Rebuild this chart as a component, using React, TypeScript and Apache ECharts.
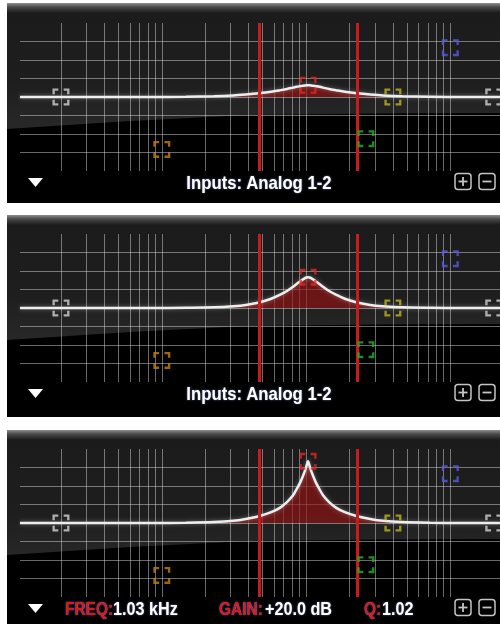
import React, { useEffect, useRef } from "react";
import * as echarts from "echarts";

const FREQS = [10.4, 86, 147, 229, 313, 382, 471, 573, 662, 737, 813, 860, 908, 947, 983, 1007, 1032, 1058, 1084, 1125, 1173, 1238, 1311, 1445, 1610, 1858, 2260, 2786, 3406, 4644, 7224, 12384, 22100];
// Curve gain (dB) for each of the three screenshots
const GAIN_A = [0, 0, 0.1, 0.25, 0.5, 0.8, 1.2, 1.7, 2.2, 2.6, 3.05, 3.3, 3.5, 3.65, 3.74, 3.78, 3.8, 3.78, 3.74, 3.65, 3.5, 3.3, 3.05, 2.6, 2.2, 1.7, 1.2, 0.8, 0.5, 0.25, 0.1, 0, 0];
const GAIN_B = [0, 0, 0.1, 0.25, 0.6, 1.0, 1.8, 3.0, 4.3, 5.5, 6.9, 7.8, 8.6, 9.2, 9.7, 9.9, 10, 9.9, 9.7, 9.2, 8.6, 7.8, 6.9, 5.5, 4.3, 3.0, 1.8, 1.0, 0.6, 0.25, 0.1, 0, 0];
const GAIN_C = [0, 0, 0.1, 0.3, 0.7, 1.3, 2.2, 3.5, 5, 6.8, 9, 11, 13, 15, 17, 18.5, 20, 18.5, 17, 15, 13, 11, 9, 6.8, 5, 3.5, 2.2, 1.3, 0.7, 0.3, 0.1, 0, 0];
const GAINS = [GAIN_A, GAIN_B, GAIN_C];

// Vertical grid frequencies and horizontal gain lines
const GRID_FREQS = [20, 30, 40, 50, 60, 70, 80, 90, 100, 200, 300, 400, 500, 600, 700, 800, 900, 1000, 2000, 3000, 4000, 5000, 6000, 7000, 8000, 9000, 10000];
const GAIN_MIN = -24;
const GAIN_MAX = 24;
const GAIN_STEP = 6;
const FREQ_MIN = 10.4;
const FREQ_MAX = 22100;

// Bandwidth edges of the selected band (Hz)
const BAND_EDGES = [471, 2260];

// EQ nodes
const NODE_FREQS = [20, 100, 1032, 2600, 4000, 10000, 20000];
const NODE_GAINS_A = [0, -17, 3.8, -13.5, 0, 16, 0];
const NODE_GAINS_B = [0, -17, 10, -13.5, 0, 16, 0];
const NODE_GAINS_C = [0, -17, 20, -13.5, 0, 16, 0];
const NODE_GAINS = [NODE_GAINS_A, NODE_GAINS_B, NODE_GAINS_C];
const NODE_COLORS = ["#d2d2d2", "#c8800f", "#e62626", "#22b52c", "#bdb51e", "#5a5ae0", "#d2d2d2"];

const FOOTER_LABEL = "Inputs: Analog 1-2";
const READOUT = [
  { label: "FREQ:", value: "1.03 kHz" },
  { label: "GAIN:", value: "+20.0 dB" },
  { label: "Q:", value: "1.02" },
];

const PANELS = [
  { top: 3, bottom: 203, gridTop: 23, readout: false },
  { top: 215, bottom: 417, gridTop: 234, readout: false },
  { top: 430, bottom: 640, gridTop: 449, readout: true },
];

const BRACKET =
  "path://M0,0H5.5V2.2H2.2V5.5H0Z M10.5,0H16V5.5H13.8V2.2H10.5Z M0,10.5H2.2V13.8H5.5V16H0Z M16,10.5V16H10.5V13.8H13.8V10.5Z";

const FONT = 'bold 18px "Liberation Sans", Arial, Helvetica, sans-serif';

function textEl(x: number, y: number, text: string, fill: string, align: string, scaleX: number) {
  return {
    type: "text",
    x,
    y,
    z: 30,
    scaleX,
    style: {
      text,
      fill,
      font: FONT,
      align,
      verticalAlign: "middle",
      textAlign: align,
      textVerticalAlign: "middle",
      textShadowColor: "rgba(140,170,255,0.55)",
      textShadowBlur: 2,
    },
  };
}

export default function App() {
  const ref = useRef<HTMLDivElement>(null);

  useEffect(() => {
    if (!ref.current) return;
    const chart = echarts.init(ref.current, undefined, { renderer: "svg" });

    const graphics: any[] = [];
    PANELS.forEach((p) => {
      const gt = p.gridTop;
      const h = p.bottom - p.top;
      graphics.push({
        type: "rect",
        z: -10,
        shape: { x: 7, y: p.top, width: 500, height: h },
        style: {
          fill: {
            type: "linear", x: 0, y: 0, x2: 0, y2: 1,
            colorStops: [
              { offset: 0, color: "#1b1b1b" },
              { offset: 0.4, color: "#1e1e1e" },
              { offset: 0.6, color: "#272727" },
              { offset: 1, color: "#2a2a2a" },
            ],
          },
        },
      });
      graphics.push({
        type: "polygon",
        z: -9,
        shape: {
          points: [
            [7, gt + 106], [130, gt + 98], [250, gt + 92], [380, gt + 90.5], [500, gt + 90],
            [500, p.bottom], [7, p.bottom],
          ],
        },
        style: { fill: "#000000" },
      });
      graphics.push({
        type: "rect",
        z: -8,
        shape: { x: 7, y: p.top, width: 500, height: 10 },
        style: {
          fill: {
            type: "linear", x: 0, y: 0, x2: 0, y2: 1,
            colorStops: [
              { offset: 0, color: "#8e8e8e" },
              { offset: 0.4, color: "#4a4a4a" },
              { offset: 1, color: "#1b1b1b" },
            ],
          },
        },
      });
      // triangle menu
      graphics.push({
        type: "polygon",
        z: 30,
        shape: { points: [[28, gt + 155], [43, gt + 155], [35.5, gt + 164]] },
        style: { fill: "#ffffff" },
      });
      // plus / minus buttons
      const cy = gt + 158.5;
      [463, 487].forEach((cx, k) => {
        graphics.push({
          type: "rect",
          z: 30,
          shape: { x: cx - 8, y: cy - 8, width: 16, height: 16, r: 3 },
          style: { fill: "none", stroke: "#c4c4c4", lineWidth: 1.5 },
        });
        graphics.push({
          type: "line",
          z: 30,
          shape: { x1: cx - 4.5, y1: cy, x2: cx + 4.5, y2: cy },
          style: { stroke: "#c4c4c4", lineWidth: 1.8 },
        });
        if (k === 0) {
          graphics.push({
            type: "line",
            z: 30,
            shape: { x1: cx, y1: cy - 4.5, x2: cx, y2: cy + 4.5 },
            style: { stroke: "#c4c4c4", lineWidth: 1.8 },
          });
        }
      });
      const ty = gt + 160;
      if (!p.readout) {
        graphics.push(textEl(259, ty, FOOTER_LABEL, "#ffffff", "center", 0.93));
      } else {
        const xs = [[65, 113], [219, 265], [364, 382]];
        READOUT.forEach((r, k) => {
          graphics.push(textEl(xs[k][0], ty, r.label, "#e01414", "left", 0.86));
          graphics.push(textEl(xs[k][1], ty, r.value, "#ffffff", "left", 0.9));
        });
      }
    });

    const grid = PANELS.map((p) => ({ left: 20, right: 0, top: p.gridTop, height: 148 }));
    const xAxis = PANELS.map((_, i) => ({
      type: "log",
      logBase: 10,
      gridIndex: i,
      min: FREQ_MIN,
      max: FREQ_MAX,
      axisLine: { show: false },
      axisTick: { show: false },
      axisLabel: { show: false },
      splitLine: { show: false },
    }));
    const yAxis = PANELS.map((_, i) => ({
      type: "value",
      gridIndex: i,
      min: GAIN_MIN,
      max: GAIN_MAX,
      interval: GAIN_STEP,
      axisLine: { show: false },
      axisTick: { show: false },
      axisLabel: { show: false },
      splitLine: {
        show: true,
        showMinLine: false,
        showMaxLine: false,
        lineStyle: { color: "rgba(220,220,220,0.48)", width: 1 },
      },
    }));

    const series: any[] = [];
    PANELS.forEach((_, i) => {
      series.push({
        type: "line",
        xAxisIndex: i,
        yAxisIndex: i,
        data: [],
        silent: true,
        z: 1,
        markLine: {
          silent: true,
          z: 1,
          symbol: ["none", "none"],
          label: { show: false },
          lineStyle: { type: "solid", color: "rgba(220,220,220,0.48)", width: 1 },
          data: GRID_FREQS.map((f) => ({ xAxis: f })),
        },
      });
      series.push({
        type: "line",
        xAxisIndex: i,
        yAxisIndex: i,
        data: FREQS.map((f, k) => [f, GAINS[i][k]]),
        smooth: 0.3,
        symbol: "none",
        z: 3,
        lineStyle: { color: "#eeeeee", width: 2.5, shadowBlur: 4, shadowColor: "rgba(255,255,255,0.35)" },
        areaStyle: { color: "rgba(150,18,18,0.92)" },
      });
      series.push({
        type: "line",
        xAxisIndex: i,
        yAxisIndex: i,
        data: [],
        silent: true,
        z: 4,
        markLine: {
          silent: true,
          z: 4,
          symbol: ["none", "none"],
          label: { show: false },
          lineStyle: { type: "solid", color: "#cc1a1a", width: 3 },
          data: BAND_EDGES.map((f) => ({ xAxis: f })),
        },
      });
      series.push({
        type: "scatter",
        xAxisIndex: i,
        yAxisIndex: i,
        symbol: BRACKET,
        symbolSize: 17,
        z: 6,
        data: NODE_FREQS.map((f, k) => ({
          value: [f, NODE_GAINS[i][k]],
          itemStyle: { color: NODE_COLORS[k] },
        })),
      });
    });

    chart.setOption({
      animation: false,
      backgroundColor: "#ffffff",
      grid,
      xAxis,
      yAxis,
      series,
      graphic: { elements: graphics },
    });
    return () => chart.dispose();
  }, []);

  return <div ref={ref} style={{ position: "absolute", left: 0, top: 0, width: 500, height: 624 }} />;
}
